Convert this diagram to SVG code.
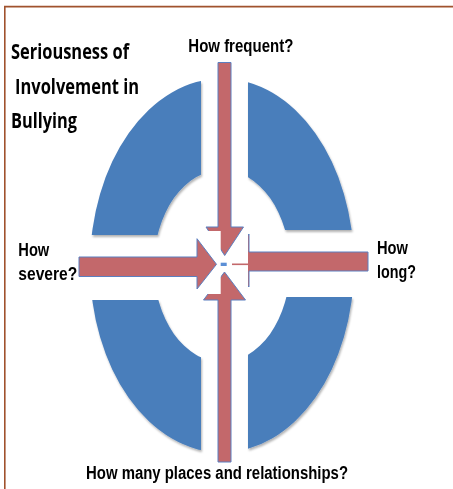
<svg xmlns="http://www.w3.org/2000/svg" width="453" height="489" viewBox="0 0 453 489">
  <defs>
    <style>
      .ring { fill: #4a7ebb; }
      .arrow { fill: #c3686b; stroke: #5b7fc0; stroke-width: 1; }
      .cover { fill: #ffffff; }
      .title { font-family: "Open Sans", "Liberation Sans", sans-serif; font-weight: bold; font-size: 21px; fill: #000; }
      .label { font-family: "Liberation Sans", Arial, sans-serif; font-weight: bold; font-size: 18px; fill: #000; }
    </style>
    <filter id="shadow" x="-10%" y="-10%" width="130%" height="130%">
      <feDropShadow dx="1" dy="2" stdDeviation="1.2" flood-color="#000" flood-opacity="0.3"/>
    </filter>
    <path id="donut" fill-rule="evenodd" d="M 90,265.5 a132,187 0 1,0 264,0 a132,187 0 1,0 -264,0 Z M 154,266 a68,96 0 1,0 136,0 a68,96 0 1,0 -136,0 Z"/>
    <clipPath id="cTL"><rect x="0" y="0" width="201" height="235"/></clipPath>
    <clipPath id="cBL"><rect x="0" y="300" width="201" height="189"/></clipPath>
    <clipPath id="cTR"><rect x="248" y="0" width="205" height="230"/></clipPath>
    <clipPath id="cBR"><rect x="248" y="297" width="205" height="192"/></clipPath>
  </defs>

  <rect x="0" y="0" width="453" height="489" fill="#ffffff"/>

  <g id="frame" fill="none" stroke="#a0522d" stroke-width="1.6">
    <path d="M 4.8,489 L 4.8,6.6 L 453,6.6"/>
  </g>

  <g id="ring" filter="url(#shadow)">
    <g id="ring-top-left" clip-path="url(#cTL)"><use href="#donut" class="ring"/></g>
    <g id="ring-bottom-left" clip-path="url(#cBL)"><use href="#donut" class="ring"/></g>
    <g id="ring-top-right" clip-path="url(#cTR)"><use href="#donut" class="ring"/></g>
    <g id="ring-bottom-right" clip-path="url(#cBR)"><use href="#donut" class="ring"/></g>
  </g>

  <g id="connectors">
    <!-- right arrow (how long) -->
    <polygon class="arrow" points="368,252 249,252 249,234 226,264 249,287 249,271 368,271"/>
    <rect class="cover" x="222" y="232" width="26" height="57"/>
    <line x1="232" y1="264.3" x2="248.5" y2="264.3" stroke="#c3686b" stroke-width="1.6"/>
    <!-- top arrow (how frequent) -->
    <polygon class="arrow" points="218,62.5 231,62.5 231,227 243.5,227 224.7,255.5 206,227 218,227"/>
    <!-- bottom arrow (how many places) -->
    <polygon class="arrow" points="218,462 231,462 231,300 245.5,300 224.5,272 203.5,300 218,300"/>
    <rect class="cover" x="208" y="231" width="12.7" height="26"/>
    <rect class="cover" x="200" y="271" width="20.7" height="23"/>
    <!-- left arrow (how severe) -->
    <polygon class="arrow" points="79,257 197,257 197,238.7 216.5,264.3 197,289 197,276.5 79,276.5"/>
    <rect x="220.7" y="262.7" width="6" height="3.3" fill="#5b8fd6"/>
  </g>

  <g id="title">
    <text class="title" x="11" y="58.5" textLength="118" lengthAdjust="spacingAndGlyphs">Seriousness of</text>
    <text class="title" x="15" y="94" textLength="124" lengthAdjust="spacingAndGlyphs">Involvement in</text>
    <text class="title" x="11" y="128" textLength="66" lengthAdjust="spacingAndGlyphs">Bullying</text>
  </g>

  <g id="label-frequent">
    <text class="label" x="188.3" y="51.7" textLength="105" lengthAdjust="spacingAndGlyphs">How frequent?</text>
  </g>
  <g id="label-severe">
    <text class="label" x="18.3" y="256" textLength="31" lengthAdjust="spacingAndGlyphs">How</text>
    <text class="label" x="18.3" y="280" textLength="59" lengthAdjust="spacingAndGlyphs">severe?</text>
  </g>
  <g id="label-long">
    <text class="label" x="377" y="254" textLength="31" lengthAdjust="spacingAndGlyphs">How</text>
    <text class="label" x="377" y="277.5" textLength="39" lengthAdjust="spacingAndGlyphs">long?</text>
  </g>
  <g id="label-places">
    <text class="label" x="86" y="479" textLength="262" lengthAdjust="spacingAndGlyphs">How many places and relationships?</text>
  </g>
</svg>
